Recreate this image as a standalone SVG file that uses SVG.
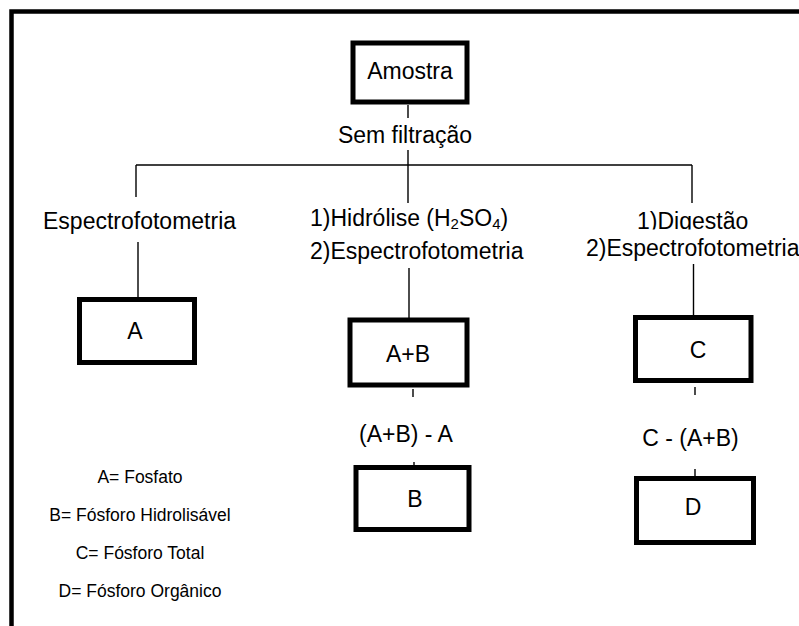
<svg xmlns="http://www.w3.org/2000/svg" width="799" height="626" viewBox="0 0 799 626">
<style>
text{font-family:"Liberation Sans",Arial,sans-serif;fill:#000}
.t{font-size:23px}
.c{text-anchor:middle}
.lg{font-size:17.5px;text-anchor:middle}
.box{fill:#fff;stroke:#000;stroke-width:5}
.ln{fill:none;stroke:#000;stroke-width:1.4}
.sub{font-size:15px}
</style>
<defs>
<clipPath id="clipDig"><rect x="600" y="195" width="199" height="34.5"/></clipPath>
</defs>
<rect x="0" y="0" width="799" height="626" fill="#fff"/>
<path d="M11.5,626 V11.5 H799" fill="none" stroke="#000" stroke-width="4.5"/>

<g id="connectors">
<path class="ln" d="M408,105 V118 M408,150 V203"/>
<path class="ln" d="M136,165 H692"/>
<path class="ln" d="M136,165 V197"/>
<path class="ln" d="M692,165 V203"/>
<path class="ln" d="M138,242 V297"/>
<path class="ln" d="M409,268 V318"/>
<path class="ln" d="M693.5,264 V315"/>
<path class="ln" d="M413,389 V397 M414,462 V466"/>
<path class="ln" d="M695,387 V395 M695,469 V476"/>
</g>

<g id="amostra">
<rect class="box" x="353" y="43" width="114" height="59"/>
<text class="t c" x="410" y="79">Amostra</text>
</g>
<g id="sem-filtracao">
<text class="t c" x="405" y="143">Sem filtração</text>
</g>

<g id="label-left">
<text class="t" x="43" y="229">Espectrofotometria</text>
</g>
<g id="label-mid">
<text class="t" x="310" y="226">1)Hidrólise (H<tspan class="sub" dy="3">2</tspan><tspan dy="-3">SO</tspan><tspan class="sub" dy="3">4</tspan><tspan dy="-3">)</tspan></text>
<text class="t" x="310" y="259">2)Espectrofotometria</text>
</g>
<g id="label-right">
<text class="t" x="637" y="229" clip-path="url(#clipDig)">1)Digestão</text>
<text class="t" x="586" y="256">2)Espectrofotometria</text>
</g>

<g id="node-A">
<rect class="box" x="79.5" y="299.5" width="115" height="63"/>
<text class="t c" x="135" y="339">A</text>
</g>
<g id="node-AB">
<rect class="box" x="350" y="320" width="117" height="65"/>
<text class="t c" x="408" y="362">A+B</text>
</g>
<g id="node-C">
<rect class="box" x="635.5" y="317.5" width="115.5" height="63"/>
<text class="t c" x="698" y="358">C</text>
</g>

<g id="label-ab-a">
<text class="t c" x="406" y="442">(A+B) - A</text>
</g>
<g id="label-c-ab">
<text class="t c" x="690.5" y="446">C - (A+B)</text>
</g>

<g id="node-B">
<rect class="box" x="356" y="467.5" width="113" height="62"/>
<text class="t c" x="415" y="507">B</text>
</g>
<g id="node-D">
<rect class="box" x="636.5" y="478.5" width="117" height="64"/>
<text class="t c" x="693" y="515">D</text>
</g>

<g id="legend">
<text class="lg" x="140" y="483">A= Fosfato</text>
<text class="lg" x="140" y="521">B= Fósforo Hidrolisável</text>
<text class="lg" x="140" y="559">C= Fósforo Total</text>
<text class="lg" x="140" y="597">D= Fósforo Orgânico</text>
</g>
</svg>
